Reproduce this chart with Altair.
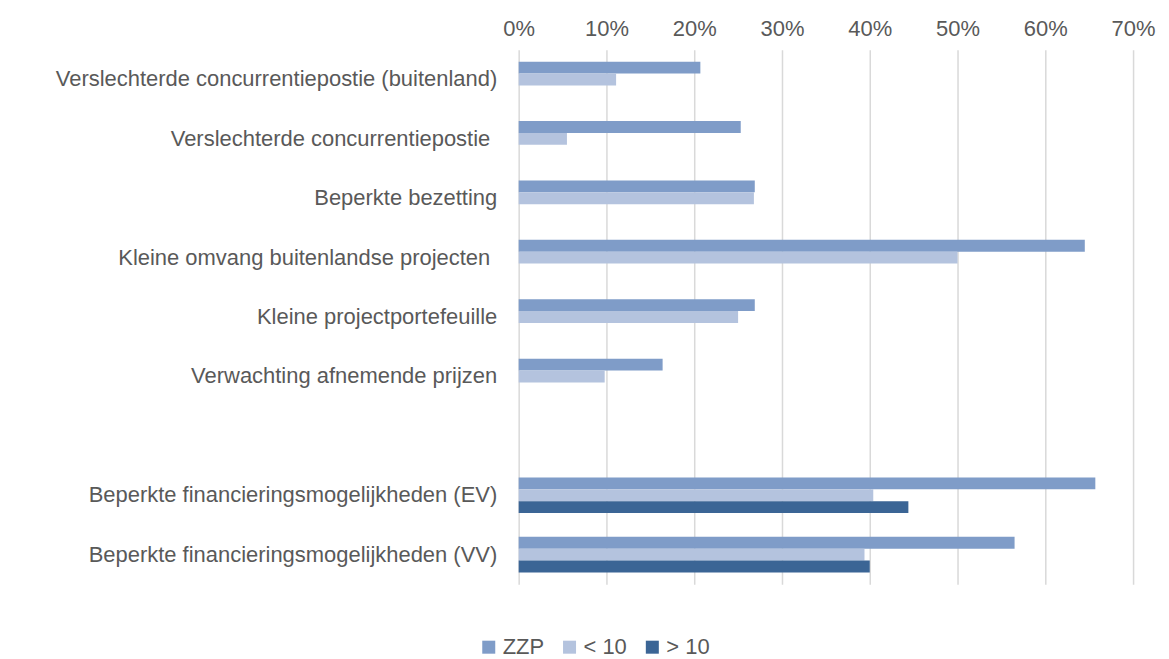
import altair as alt
import pandas as pd

categories = [
    "Verslechterde concurrentiepostie (buitenland)",
    "Verslechterde concurrentiepostie",
    "Beperkte bezetting",
    "Kleine omvang buitenlandse projecten",
    "Kleine projectportefeuille",
    "Verwachting afnemende prijzen",
    "",
    "Beperkte financieringsmogelijkheden (EV)",
    "Beperkte financieringsmogelijkheden (VV)",
]
series = ["ZZP", "< 10", "> 10"]
zzp = [20.7, 25.3, 26.9, 64.5, 26.9, 16.4, None, 65.7, 56.5]
lt10 = [11.1, 5.5, 26.8, 50.0, 25.0, 9.8, None, 40.4, 39.4]
gt10 = [None, None, None, None, None, None, None, 44.4, 40.0]
colors = ["#7f9cc8", "#b4c3de", "#3b6595"]
ticks = [0, 0.1, 0.2, 0.3, 0.4, 0.5, 0.6, 0.7]

rows = []
for s, vals in zip(series, [zzp, lt10, gt10]):
    for c, v in zip(categories, vals):
        if v is not None:
            rows.append({"cat": c, "serie": s, "val": v / 100})
df = pd.DataFrame(rows)

FONT = "Liberation Sans"
TXT = "#595959"
FS = 22

# labels that carry a trailing space in the original
pad_test = (
    "datum.value === '" + categories[1] + "' || datum.value === '" + categories[3] + "'"
)

chart = (
    alt.Chart(df)
    .mark_bar()
    .encode(
        x=alt.X(
            "val:Q",
            scale=alt.Scale(domain=[0, 0.7], nice=False),
            axis=alt.Axis(
                orient="top",
                format=".0%",
                values=ticks,
                title=None,
                domain=False,
                ticks=False,
                labelFlush=False,
                labelFontSize=FS,
                labelColor=TXT,
                labelFont=FONT,
                labelPadding=9,
                gridColor="#d9d9d9",
                gridWidth=1.5,
            ),
        ),
        y=alt.Y(
            "cat:N",
            scale=alt.Scale(domain=categories, paddingInner=0.4, paddingOuter=0.2),
            axis=alt.Axis(
                title=None,
                domain=False,
                ticks=False,
                grid=False,
                labelFontSize=FS,
                labelColor=TXT,
                labelFont=FONT,
                labelPadding={"condition": {"test": pad_test, "value": 29}, "value": 22},
                labelLimit=700,
            ),
        ),
        yOffset=alt.YOffset("serie:N", scale=alt.Scale(domain=series), sort=series),
        color=alt.Color(
            "serie:N",
            scale=alt.Scale(domain=series, range=colors),
            legend=alt.Legend(
                title=None,
                orient="none",
                direction="horizontal",
                legendX=-41,
                legendY=588,
                symbolType="square",
                symbolSize=170,
                symbolStrokeWidth=0,
                labelFontSize=FS,
                labelColor=TXT,
                labelFont=FONT,
                labelOffset=3,
                columnPadding=14,
            ),
        ),
    )
    .properties(
        width=616,
        height=536,
        padding={"left": 47, "top": 9, "right": 5, "bottom": 5},
    )
    .configure_view(stroke=None)
)

chart.save("out.html", embed_options={"renderer": "svg", "actions": False})
